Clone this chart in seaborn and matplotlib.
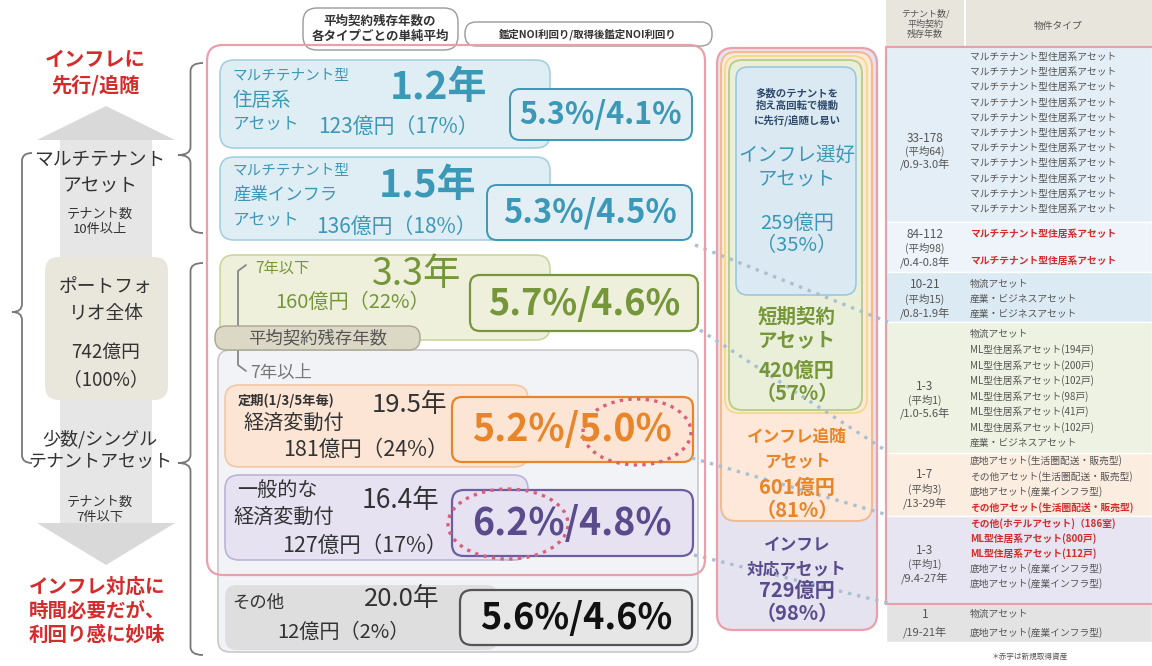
import matplotlib
matplotlib.use("Agg")
import matplotlib.pyplot as plt
import seaborn as sns
from matplotlib.patches import FancyBboxPatch, Ellipse, Polygon, PathPatch
from matplotlib.path import Path

# ---- data ----
avg_years = [1.2, 1.5, 3.3, 19.5, 16.4, 20.0]
amounts = [123, 136, 160, 181, 127, 12]
shares = [17, 18, 22, 24, 17, 2]
noi = [5.3, 5.3, 5.7, 5.2, 6.2, 5.6]
noi_post = [4.1, 4.5, 4.6, 5.0, 4.8, 4.6]

group_names = [["インフレ選好", "アセット"], ["短期契約", "アセット"],
               ["インフレ追随", "アセット"], ["インフレ", "対応アセット"]]
group_amounts = [259, 420, 601, 729]
group_shares = [35, 57, 81, 98]
total_amount = 742
total_share = 100

table_keys = [
    ["33-178", "(平均64)", "/0.9-3.0年"],
    ["84-112", "(平均98)", "/0.4-0.8年"],
    ["10-21", "(平均15)", "/0.8-1.9年"],
    ["1-3", "(平均1)", "/1.0-5.6年"],
    ["1-7", "(平均3)", "/13-29年"],
    ["1-3", "(平均1)", "/9.4-27年"],
    ["1", "/19-21年"],
]
table_props = [
    ["マルチテナント型住居系アセット"] * 11,
    ["マルチテナント型住居系アセット"] * 2,
    ["物流アセット", "産業・ビジネスアセット", "産業・ビジネスアセット"],
    ["物流アセット", "ML型住居系アセット(194戸)", "ML型住居系アセット(200戸)",
     "ML型住居系アセット(102戸)", "ML型住居系アセット(98戸)", "ML型住居系アセット(41戸)",
     "ML型住居系アセット(102戸)", "産業・ビジネスアセット"],
    ["底地アセット(生活圏配送・販売型)", "その他アセット(生活圏配送・販売型)",
     "底地アセット(産業インフラ型)", "その他アセット(生活圏配送・販売型)"],
    ["その他(ホテルアセット)（186室)", "ML型住居系アセット(800戸)", "ML型住居系アセット(112戸)",
     "底地アセット(産業インフラ型)", "底地アセット(産業インフラ型)"],
    ["物流アセット", "底地アセット(産業インフラ型)"],
]
# new acquisitions (red text)
table_new = [
    [False] * 11,
    [True, True],
    [False] * 3,
    [False] * 8,
    [False, False, False, True],
    [True, True, True, False, False],
    [False, False],
]

# ---- style ----
sns.set_theme(style="white")
plt.rcParams["font.family"] = ["Noto Sans CJK JP", "DejaVu Sans"]

RED = "#d42b2b"
TEAL = "#3b98b6"
GREEN = "#76963a"
ORANGE = "#e8842a"
PURPLE = "#5a4c8c"
PINK = "#e9a0ab"
DARK = "#333333"

fig = plt.figure(figsize=(11.52, 6.66), dpi=100)
ax = fig.add_axes([0, 0, 1, 1])
ax.set_xlim(0, 1152)
ax.set_ylim(666, 0)
ax.axis("off")


def rbox(x0, y0, x1, y1, fc="none", ec="none", lw=1.2, r=12, z=1, ls="-"):
    p = FancyBboxPatch((x0, y0), x1 - x0, y1 - y0,
                       boxstyle=f"round,pad=0,rounding_size={r}",
                       fc=fc, ec=ec, lw=lw, zorder=z, ls=ls)
    ax.add_patch(p)


def txt(x, y, s, size=10, color=DARK, weight="normal", ha="left", va="center", z=10, ls=1.2):
    ax.text(x, y, s, fontsize=size, color=color, fontweight=weight, ha=ha, va=va,
            zorder=z, linespacing=ls)


def brace(x_tip, x_end, y0, y1, ym, color="#777777", lw=1.3):
    xm = (x_tip + x_end) / 2
    r = 8
    verts = [(x_end, y0), (xm, y0), (xm, y0 + r),
             (xm, ym - r), (xm, ym), (x_tip, ym),
             (xm, ym), (xm, ym + r),
             (xm, y1 - r), (xm, y1), (x_end, y1)]
    codes = [Path.MOVETO, Path.CURVE3, Path.CURVE3,
             Path.LINETO, Path.CURVE3, Path.CURVE3,
             Path.CURVE3, Path.CURVE3,
             Path.LINETO, Path.CURVE3, Path.CURVE3]
    ax.add_patch(PathPatch(Path(verts, codes), fc="none", ec=color, lw=lw, zorder=5))


# ---- left column ----
txt(95, 72, "インフレに\n先行/追随", 14.5, RED, "bold", ha="center", ls=1.25)
ax.add_patch(Polygon([(37, 140), (106, 106), (175, 140)], closed=True, fc="#d9d9d9", ec="none", zorder=1))
ax.add_patch(Polygon([(60, 140), (152, 140), (152, 258), (60, 258)], closed=True, fc="#e6e6e6", ec="none", zorder=1))
rbox(45, 257, 168, 400, fc="#e9e7dc", r=14, z=2)
ax.add_patch(Polygon([(60, 400), (152, 400), (152, 523), (60, 523)], closed=True, fc="#e6e6e6", ec="none", zorder=1))
ax.add_patch(Polygon([(37, 523), (175, 523), (106, 565)], closed=True, fc="#d9d9d9", ec="none", zorder=1))

txt(100, 172, "マルチテナント\nアセット", 13.5, DARK, ha="center", ls=1.3)
txt(100, 222, "テナント数\n10件以上", 9.5, DARK, ha="center", ls=1.3)
txt(106, 300, "ポートフォ\nリオ全体", 13.5, DARK, ha="center", ls=1.35)
txt(106, 366, f"{total_amount}億円\n（{total_share}%）", 13.5, DARK, ha="center", ls=1.35)
txt(100, 450, "少数/シングル\nテナントアセット", 13, DARK, ha="center", ls=1.3)
txt(100, 510, "テナント数\n7件以下", 9.5, DARK, ha="center", ls=1.3)
txt(97, 611, "インフレ対応に\n時間必要だが、\n利回り感に妙味", 14, RED, "bold", ha="center", ls=1.3)

brace(12, 32, 153, 463, 312)
brace(178, 203, 63, 233, 155)
brace(178, 203, 263, 655, 463)

# ---- header bubbles ----
rbox(303, 8, 458, 50, fc="white", ec="#999999", lw=1.0, r=14, z=3)
txt(380, 29, "平均契約残存年数の\n各タイプごとの単純平均", 9, DARK, "bold", ha="center", ls=1.25)
rbox(465, 22, 712, 46, fc="white", ec="#999999", lw=1.0, r=11, z=3)
txt(588, 34, "鑑定NOI利回り/取得後鑑定NOI利回り", 7.5, DARK, "bold", ha="center")

# ---- middle boxes ----
rbox(218, 350, 698, 652, fc="#f2f3f6", ec="#c8c8cc", lw=1.2, r=12, z=1)

fmt_amt = [f"{a}億円（{s}%）" for a, s in zip(amounts, shares)]
fmt_noi = [f"{a:.1f}%/{b:.1f}%" for a, b in zip(noi, noi_post)]
fmt_yr = [f"{y:.1f}年" for y in avg_years]

# multi-tenant residential
rbox(220, 60, 550, 148, fc="#dfedf4", ec="#a6d0de", lw=1.2, r=14, z=2)
txt(233, 76, "マルチテナント型", 10.5, TEAL)
txt(233, 100, "住居系", 14, TEAL)
txt(233, 124, "アセット", 12, TEAL)
txt(438, 88, fmt_yr[0], 28, TEAL, "bold", ha="center")
txt(318, 127, fmt_amt[0], 15, TEAL)
rbox(510, 89, 692, 140, fc="#e3eff5", ec=TEAL, lw=1.4, r=10, z=3)
txt(601, 115, fmt_noi[0], 22, TEAL, "bold", ha="center")

# multi-tenant industrial
rbox(220, 157, 550, 240, fc="#dfedf4", ec="#a6d0de", lw=1.2, r=14, z=2)
txt(233, 171, "マルチテナント型", 10.5, TEAL)
txt(233, 195, "産業インフラ", 12.5, TEAL)
txt(233, 220, "アセット", 12, TEAL)
txt(428, 186, fmt_yr[1], 28, TEAL, "bold", ha="center")
txt(316, 227, fmt_amt[1], 15, TEAL)
rbox(487, 185, 692, 240, fc="#e3eff5", ec=TEAL, lw=1.4, r=10, z=3)
txt(590, 213, fmt_noi[1], 23.5, TEAL, "bold", ha="center")

# 7 years or less
rbox(220, 255, 550, 340, fc="#eef0dc", ec="#cbd59e", lw=1.2, r=14, z=2)
txt(255, 269, "7年以下", 11, GREEN)
txt(417, 275, fmt_yr[2], 27, GREEN, ha="center")
txt(275, 302, fmt_amt[2], 14.5, GREEN)
rbox(470, 275, 698, 331, fc="#eef0dc", ec=GREEN, lw=1.6, r=10, z=3)
txt(584, 304, fmt_noi[2], 26, GREEN, "bold", ha="center")

ax.plot([246, 238, 238, 246], [265, 271, 365, 371], color="#888888", lw=1.3, zorder=6)
rbox(215, 326, 420, 350, fc="#dcd8c6", ec="#a9a590", lw=1.0, r=11, z=7)
txt(318, 338, "平均契約残存年数", 12.5, "#555555", ha="center", z=8)
txt(250, 373, "7年以上", 12.5, "#777777")

# fixed-period economic indexation
rbox(225, 385, 528, 467, fc="#fce5d5", ec="#f3c8a6", lw=1.2, r=14, z=2)
txt(238, 401, "定期(1/3/5年毎)", 9.5, DARK, "bold")
txt(243, 423, "経済変動付", 14.5, DARK)
txt(410, 405, fmt_yr[3], 18.5, DARK, ha="center")
txt(283, 450, fmt_amt[3], 15.5, DARK)
rbox(452, 397, 693, 462, fc="#fce5d5", ec=ORANGE, lw=1.6, r=10, z=3)
txt(572, 430, fmt_noi[3], 27, ORANGE, "bold", ha="center")
ax.add_patch(Ellipse((637, 432), 108, 66, fc="none", ec="#d9607a", lw=2.4, ls=(0, (1, 1.6)), zorder=9))

# general economic indexation
rbox(225, 475, 528, 560, fc="#e6e2f1", ec="#bcb3d8", lw=1.2, r=14, z=2)
txt(237, 490, "一般的な", 14.5, DARK)
txt(233, 517, "経済変動付", 14.5, DARK)
txt(400, 500, fmt_yr[4], 19, DARK, ha="center")
txt(282, 546, fmt_amt[4], 15.5, DARK)
rbox(452, 490, 693, 556, fc="#e6e2f1", ec="#6c5ea0", lw=1.6, r=12, z=3)
txt(572, 523, fmt_noi[4], 27, PURPLE, "bold", ha="center")
ax.add_patch(Ellipse((508, 524), 120, 70, fc="none", ec="#d9607a", lw=2.4, ls=(0, (1, 1.6)), zorder=9))

# others
rbox(225, 585, 498, 650, fc="#dedede", ec="none", r=12, z=2)
txt(232, 603, "その他", 12.5, DARK)
txt(402, 599, fmt_yr[5], 18.5, DARK, ha="center")
txt(277, 632, fmt_amt[5], 14.5, DARK)
rbox(460, 590, 692, 645, fc="#e6e6e6", ec="#555555", lw=1.6, r=12, z=3)
txt(576, 618, fmt_noi[5], 26, "#111111", "bold", ha="center")

# pink group outline
rbox(207, 45, 705, 575, fc="none", ec=PINK, lw=1.6, r=16, z=8)

# ---- nested group column ----
rbox(717, 48, 877, 630, fc="#e6e3f1", ec=PINK, lw=1.6, r=16, z=2)
rbox(721, 52, 872, 521, fc="#fde8da", ec="#f4b98e", lw=1.4, r=15, z=3)
rbox(725, 56, 867, 413, fc="none", ec="#f1dc8a", lw=1.4, r=14, z=4)
rbox(729, 60, 862, 410, fc="#e9efd9", ec="#b9cf8a", lw=1.4, r=13, z=4)
rbox(736, 67, 856, 295, fc="#dbe9f3", ec="#9cc8dc", lw=1.2, r=12, z=5)

cx = 797
txt(cx, 107, "多数のテナントを\n抱え高回転で機動\nに先行/追随し易い", 7.5, "#2e4a6b", "bold", ha="center", ls=1.3)
group_colors = [TEAL, GREEN, ORANGE, PURPLE]
group_name_y = [155, 317, 437, 545]
group_amt_y = [223, 370, 487, 590]
group_name_size = [14, 14, 12, 12]
for names, a, s, c, yn, ya, sz in zip(group_names, group_amounts, group_shares,
                                     group_colors, group_name_y, group_amt_y, group_name_size):
    w = "normal" if c == TEAL else "bold"
    txt(cx, yn, names[0], sz, c, w, ha="center")
    txt(cx, yn + 24, names[1], sz, c, w, ha="center")
    txt(cx, ya, f"{a}億円", 14.5, c, w, ha="center")
    txt(cx, ya + 23, f"（{s}%）", 14.5, c, w, ha="center")

# dotted connectors
for (xa, ya), (xb, yb) in [((695, 245), (888, 322)), ((700, 330), (888, 452)),
                           ((692, 458), (888, 515)), ((694, 555), (888, 603))]:
    ax.plot([xa, xb], [ya, yb], color="#a9c0d2", lw=2.4, ls=(0, (1, 1.8)), zorder=7)

# ---- right table ----
ax.add_patch(Polygon([(886, 0), (964, 0), (964, 47), (886, 47)], closed=True, fc="#e7e5dc", ec="none", zorder=1))
ax.add_patch(Polygon([(966, 0), (1152, 0), (1152, 47), (966, 47)], closed=True, fc="#e7e5dc", ec="none", zorder=1))
txt(925, 24, "テナント数/\n平均契約\n残存年数", 6.5, "#555555", ha="center", ls=1.2)
txt(1058, 26, "物件タイプ", 7, "#555555", ha="center")

row_bounds = [47, 222, 272, 322, 453, 516, 604, 642]
row_fills = ["#e4eef6", "#eef4f9", "#dceaf4", "#eef2e2", "#fbeee1", "#e7e5f2", "#e3e3e3"]
line_starts = [57, 234, 284, 334, 461, 524, 614]
line_steps = [15.2, 27, 15, 15.6, 15.5, 14.8, 19]
key_y = [[138, 151, 164], [234, 248, 262], [285, 299, 313], [386, 400, 413],
         [475, 489, 503], [550, 564, 578], [614, 632]]

for i in range(len(table_keys)):
    y0, y1 = row_bounds[i], row_bounds[i + 1]
    ax.add_patch(Polygon([(886, y0), (1152, y0), (1152, y1), (886, y1)], closed=True,
                         fc=row_fills[i], ec="white", lw=1.0, zorder=1))
    for j, (k, ky) in enumerate(zip(table_keys[i], key_y[i])):
        sz = 8.5 if j == 0 else 7.5
        if k.startswith("/"):
            sz = 8
        txt(925, ky, k, sz, "#555555", ha="center", z=3)
    for j, (name, new) in enumerate(zip(table_props[i], table_new[i])):
        y = line_starts[i] + j * line_steps[i]
        txt(970, y, name, 7, RED if new else "#555555", "bold" if new else "normal", z=3)

ax.plot([886, 886, 1152], [604, 47, 47], color=PINK, lw=1.6, zorder=4)
ax.plot([886, 1152], [604, 604], color=PINK, lw=1.6, zorder=4)
txt(1030, 657, "＊赤字は新規取得資産", 5.5, "#555555", ha="center")

fig.savefig("out.png", dpi=100)
